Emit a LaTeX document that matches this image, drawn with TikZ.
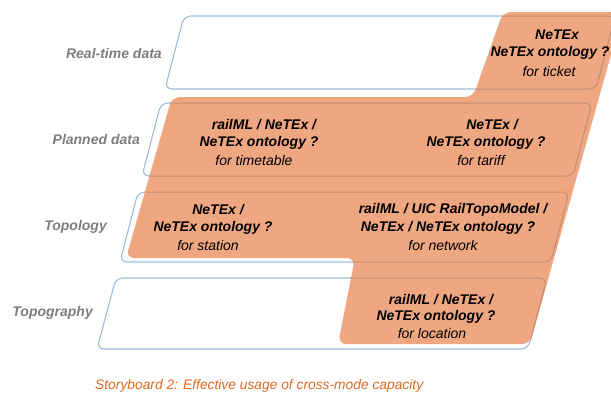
\documentclass[tikz,border=0pt]{standalone}
\usepackage{fontspec}
\setmainfont{Liberation Sans}
\definecolor{rowblue}{RGB}{157,187,221}
\definecolor{orfill}{RGB}{239,167,130}
\definecolor{inline}{RGB}{192,140,114}
\definecolor{labgray}{RGB}{125,125,125}
\definecolor{capor}{RGB}{222,104,32}
\tikzset{
  rowline/.style={draw=rowblue, line width=1.1pt, rounded corners=7pt},
  innerrow/.style={draw=inline, line width=1pt, rounded corners=7pt},
  orshape/.style={fill=orfill, rounded corners=8pt},
  mainline/.style={inner sep=0pt, font=\fontsize{14}{16}\selectfont\bfseries\itshape},
  subline/.style={inner sep=0pt, font=\fontsize{14}{16}\selectfont\itshape},
  rowlabel/.style={inner sep=0pt, anchor=east, text=labgray, font=\fontsize{14}{16}\selectfont\bfseries\itshape},
  captext/.style={inner sep=0pt, anchor=west, text=capor, font=\fontsize{13.8}{16}\selectfont\itshape}
}
\newcommand\orpath{(oA) -- (oB) -- (oC) -- (oD) -- (oE) -- (oF) -- (oG) -- (oH) -- cycle}
\newcommand\rowsall{%
  (r1a) -- (r1b) -- (r1c) -- (r1d) -- cycle
  (r2a) -- (r2b) -- (r2c) -- (r2d) -- cycle
  (r3a) -- (r3b) -- (r3c) -- (r3d) -- cycle
  (r4a) -- (r4b) -- (r4c) -- (r4d) -- cycle}
\begin{document}
\begin{tikzpicture}[x=1pt,y=-1pt]
\useasboundingbox (0,0) rectangle (611,394);
\clip (0,0) rectangle (611,394);
% row outlines
\coordinate (r1a) at (184,16);  \coordinate (r1b) at (615,16);  \coordinate (r1c) at (596,89);  \coordinate (r1d) at (165,89);
\coordinate (r2a) at (161,103); \coordinate (r2b) at (592,103); \coordinate (r2c) at (573,176); \coordinate (r2d) at (142,176);
\coordinate (r3a) at (138,192); \coordinate (r3b) at (569,192); \coordinate (r3c) at (551,262); \coordinate (r3d) at (120,262);
\coordinate (r4a) at (116,278); \coordinate (r4b) at (547,278); \coordinate (r4c) at (528,349); \coordinate (r4d) at (97,349);
% orange region
\coordinate (oA) at (503,12);  \coordinate (oB) at (623,12);  \coordinate (oC) at (530,344);
\coordinate (oD) at (338,344); \coordinate (oE) at (355,258); \coordinate (oF) at (126,258);
\coordinate (oG) at (172,97);  \coordinate (oH) at (473,97);
\draw[rowline] \rowsall;
\fill[orshape] \orpath;
\begin{scope}
  \clip[rounded corners=8pt] \orpath;
  \draw[innerrow] \rowsall;
\end{scope}
% row labels
\node[rowlabel] (lrt) at (162,53) {Real-time data};
\node[rowlabel] (lpd) at (140,139) {Planned data};
\node[rowlabel] (ltl) at (107,227) {Topology};
\node[rowlabel] (ltg) at (93,313) {Topography};
% real-time
\node[mainline] (t1a) at (557,35) {NeTEx};
\node[mainline] (t1b) at (550,53) {NeTEx ontology ?};
\node[subline]  (t1c) at (549,71) {for ticket};
% planned, timetable
\node[mainline] (t2a) at (264,125) {railML / NeTEx /};
\node[mainline] (t2b) at (259,143) {NeTEx ontology ?};
\node[subline]  (t2c) at (254,160) {for timetable};
% planned, tariff
\node[mainline] (t3a) at (492,125) {NeTEx /};
\node[mainline] (t3b) at (486,143) {NeTEx ontology ?};
\node[subline]  (t3c) at (481,160) {for tariff};
% topology, station
\node[mainline] (t4a) at (218,210) {NeTEx /};
\node[mainline] (t4b) at (213,228) {NeTEx ontology ?};
\node[subline]  (t4c) at (208,245) {for station};
% topology, network
\node[mainline] (t5a) at (453,210) {railML / UIC RailTopoModel /};
\node[mainline] (t5b) at (448,228) {NeTEx / NeTEx ontology ?};
\node[subline]  (t5c) at (443,245) {for network};
% topography, location
\node[mainline] (t6a) at (441,300) {railML / NeTEx /};
\node[mainline] (t6b) at (436,317) {NeTEx ontology ?};
\node[subline]  (t6c) at (432,333) {for location};
% caption
\node[captext] (cap) at (95,386) {Storyboard 2: Effective usage of cross-mode capacity};
\end{tikzpicture}
\end{document}
